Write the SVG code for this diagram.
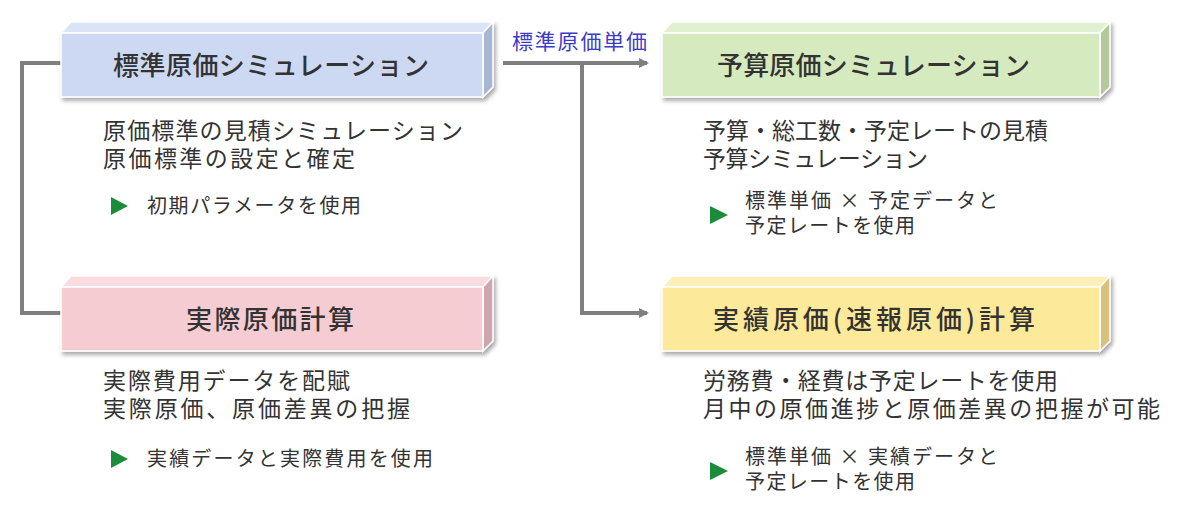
<svg xmlns="http://www.w3.org/2000/svg" width="1178" height="507" viewBox="0 0 1178 507">
<style>
.title{font-family:"Noto Sans CJK JP","Noto Sans",sans-serif;font-size:26px;font-weight:500;fill:#333}
.body{font-family:"Noto Sans CJK JP","Noto Sans",sans-serif;font-size:23px;fill:#333}
.bul{font-family:"Noto Sans CJK JP","Noto Sans",sans-serif;font-size:20px;fill:#333}
.lbl{font-family:"Noto Sans CJK JP","Noto Sans",sans-serif;font-size:21px;fill:#3b3bc8}
.face{stroke:#fff;stroke-width:1.5}
.conn{fill:none;stroke:#7f7f7f;stroke-width:4}
.tri{fill:#1a8c3a}
</style>
<defs>
<filter id="sh" x="-5%" y="-20%" width="110%" height="150%">
<feDropShadow dx="2" dy="3" stdDeviation="2" flood-color="#000" flood-opacity="0.35"/>
</filter>
<marker id="ah" markerWidth="10" markerHeight="10" refX="8" refY="5" orient="auto" markerUnits="userSpaceOnUse" viewBox="0 0 10 10">
<path d="M0,0 L10,5 L0,10 z" fill="#7f7f7f"/>
</marker>
</defs>
<g id="connectors">
<polyline class="conn" points="61,63 22,63 22,313 61,313"/>
<polyline class="conn" points="503,63 647,63" marker-end="url(#ah)"/>
<polyline class="conn" points="582,63 582,313 647,313" marker-end="url(#ah)"/>
<text class="lbl" x="512" y="49" textLength="135" lengthAdjust="spacing">標準原価単価</text>
</g>
<g id="node-standard">
<g filter="url(#sh)">
<path class="face" d="M61,33 L71,22 L493,22 L483,33 z" fill="#dbe4f6"/>
<path class="face" d="M483,33 L493,22 L493,87 L483,97 z" fill="#a8b5d3"/>
<rect class="face" x="61" y="33" width="422" height="64" fill="#cdd9f2"/>
</g>
<text class="title" x="113" y="75" textLength="316" lengthAdjust="spacing">標準原価シミュレーション</text>
<text class="body" x="103" y="139" textLength="360" lengthAdjust="spacing">原価標準の見積シミュレーション</text>
<text class="body" x="103" y="167" textLength="252" lengthAdjust="spacing">原価標準の設定と確定</text>
<path class="tri" d="M111,197 L128,206 L111,215 z"/>
<text class="bul" x="147" y="213" textLength="214" lengthAdjust="spacing">初期パラメータを使用</text>
</g>
<g id="node-budget">
<g filter="url(#sh)">
<path class="face" d="M662,33 L672,22 L1110,22 L1100,33 z" fill="#e2f0d2"/>
<path class="face" d="M1100,33 L1110,22 L1110,87 L1100,97 z" fill="#b3c99c"/>
<rect class="face" x="662" y="33" width="438" height="64" fill="#d6eac0"/>
</g>
<text class="title" x="717" y="75" textLength="313" lengthAdjust="spacing">予算原価シミュレーション</text>
<text class="body" x="703" y="139" textLength="345" lengthAdjust="spacing">予算・総工数・予定レートの見積</text>
<text class="body" x="703" y="167" textLength="225" lengthAdjust="spacing">予算シミュレーション</text>
<path class="tri" d="M710,206 L728,215 L710,224 z"/>
<text class="bul" x="745" y="208" textLength="253" lengthAdjust="spacing">標準単価 × 予定データと</text>
<text class="bul" x="745" y="233" textLength="170" lengthAdjust="spacing">予定レートを使用</text>
</g>
<g id="node-actual">
<g filter="url(#sh)">
<path class="face" d="M61,287 L71,276 L493,276 L483,287 z" fill="#f9dbe0"/>
<path class="face" d="M483,287 L493,276 L493,341 L483,351 z" fill="#cfa6ad"/>
<rect class="face" x="61" y="287" width="422" height="64" fill="#f6ccd3"/>
</g>
<text class="title" x="186" y="329" textLength="168" lengthAdjust="spacing">実際原価計算</text>
<text class="body" x="103" y="389" textLength="247" lengthAdjust="spacing">実際費用データを配賦</text>
<text class="body" x="103" y="417" textLength="307" lengthAdjust="spacing">実際原価、原価差異の把握</text>
<path class="tri" d="M111,450 L128,459 L111,468 z"/>
<text class="bul" x="147" y="466" textLength="286" lengthAdjust="spacing">実績データと実際費用を使用</text>
</g>
<g id="node-flash">
<g filter="url(#sh)">
<path class="face" d="M662,287 L672,276 L1110,276 L1100,287 z" fill="#fdefb8"/>
<path class="face" d="M1100,287 L1110,276 L1110,341 L1100,351 z" fill="#d6c27a"/>
<rect class="face" x="662" y="287" width="438" height="64" fill="#fde99a"/>
</g>
<text class="title" x="713" y="329" textLength="322" lengthAdjust="spacing">実績原価(速報原価)計算</text>
<text class="body" x="703" y="389" textLength="355" lengthAdjust="spacing">労務費・経費は予定レートを使用</text>
<text class="body" x="703" y="417" textLength="457" lengthAdjust="spacing">月中の原価進捗と原価差異の把握が可能</text>
<path class="tri" d="M710,462 L728,471 L710,480 z"/>
<text class="bul" x="745" y="464" textLength="253" lengthAdjust="spacing">標準単価 × 実績データと</text>
<text class="bul" x="745" y="489" textLength="170" lengthAdjust="spacing">予定レートを使用</text>
</g>
</svg>
